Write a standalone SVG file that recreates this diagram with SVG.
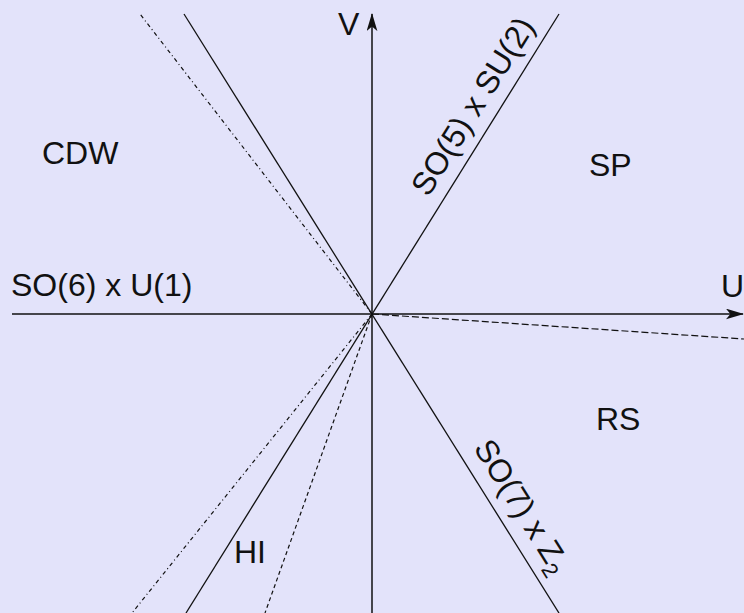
<svg xmlns="http://www.w3.org/2000/svg" width="744" height="613" viewBox="0 0 744 613">
  <style>
    .lbl { font-family: "Liberation Sans", Arial, sans-serif; font-size: 32px; fill: #111; }
    .axis { stroke: #111; stroke-width: 1.5; fill: none; }
    .solid { stroke: #111; stroke-width: 1.3; fill: none; }
    .dashdot { stroke: #111; stroke-width: 1.2; fill: none; stroke-dasharray: 4 3 1 3; }
    .dash { stroke: #111; stroke-width: 1.2; fill: none; stroke-dasharray: 4 3; }
    .dashlong { stroke: #111; stroke-width: 1.2; fill: none; stroke-dasharray: 7 3; }
  </style>
  <defs>
    <marker id="arrow" viewBox="0 0 20 12" refX="19" refY="6" markerWidth="18" markerHeight="11" markerUnits="userSpaceOnUse" orient="auto">
      <path d="M0,0 L20,6 L0,12 L5,6 Z" fill="#111"/>
    </marker>
  </defs>
  <rect x="0" y="0" width="744" height="613" fill="#E3E3FA"/>
  <g id="connectors">
    <line class="axis" x1="12" y1="314" x2="743" y2="314" marker-end="url(#arrow)"/>
    <line class="axis" x1="372" y1="613" x2="372" y2="14" marker-end="url(#arrow)"/>
    <line class="solid" x1="186" y1="613" x2="559" y2="14"/>
    <line class="solid" x1="184" y1="14" x2="559" y2="613"/>
    <line class="dashdot" x1="372" y1="314" x2="140" y2="14"/>
    <line class="dashdot" x1="372" y1="314" x2="132" y2="613"/>
    <line class="dash" x1="372" y1="314" x2="265" y2="613"/>
    <line class="dashlong" x1="372" y1="314" x2="744" y2="339"/>
  </g>
  <g id="label-V"><text class="lbl" x="338" y="35">V</text></g>
  <g id="label-U"><text class="lbl" x="721" y="297">U</text></g>
  <g id="label-CDW"><text class="lbl" x="42" y="164">CDW</text></g>
  <g id="label-SP"><text class="lbl" x="589" y="176">SP</text></g>
  <g id="label-RS"><text class="lbl" x="596" y="430">RS</text></g>
  <g id="label-HI"><text class="lbl" x="234" y="563">HI</text></g>
  <g id="label-SO6U1"><text class="lbl" x="11" y="296">SO(6) x U(1)</text></g>
  <g id="label-SO5SU2"><text class="lbl" text-anchor="middle" transform="translate(482,112) rotate(-58)">SO(5) x SU(2)</text></g>
  <g id="label-SO7Z2"><text class="lbl" transform="translate(473,448) rotate(58)">SO(7) x Z<tspan font-size="22" dy="7">2</tspan></text></g>
</svg>
